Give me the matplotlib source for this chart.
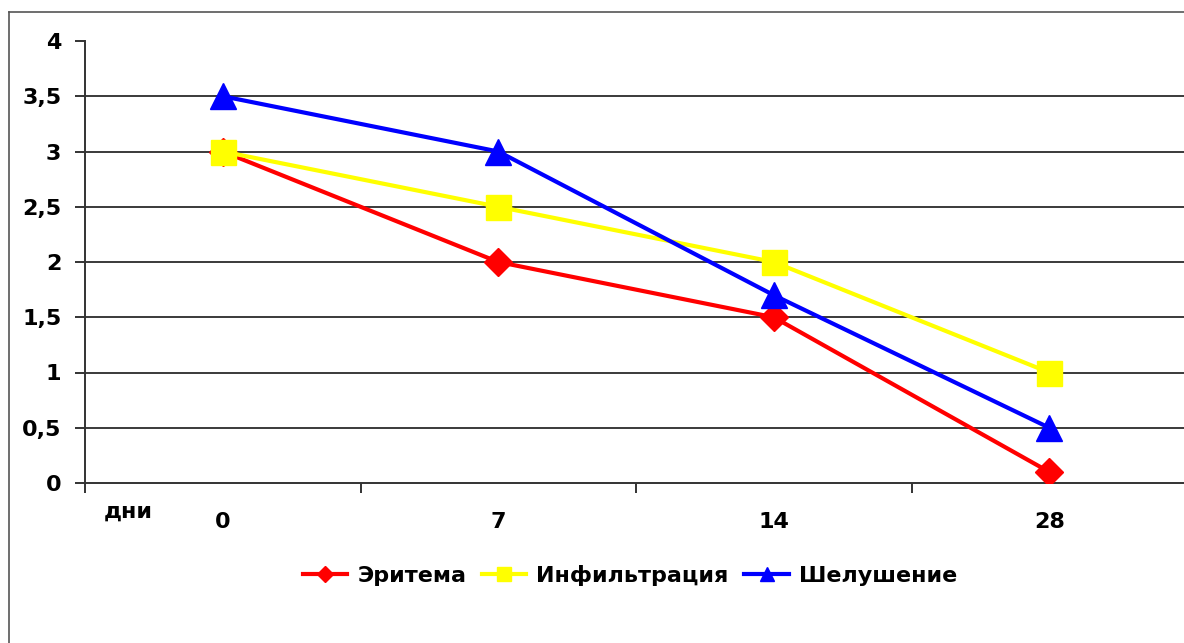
import matplotlib
matplotlib.use("Agg")
import matplotlib.pyplot as plt
from matplotlib.lines import Line2D

plt.rcParams['font.family'] = ['DejaVu Sans']
plt.rcParams['font.weight'] = 'bold'

days = ['0', '7', '14', '28']
erythema = [3, 2, 1.5, 0.1]
infiltration = [3, 2.5, 2, 1]
desquamation = [3.5, 3, 1.7, 0.5]
y_ticks = [0, 0.5, 1, 1.5, 2, 2.5, 3, 3.5, 4]
y_labels = ['0', '0,5', '1', '1,5', '2', '2,5', '3', '3,5', '4']

W, H = 1184, 643
FS = 16
fig = plt.figure(figsize=(W / 100, H / 100), dpi=100)
fig.patch.set_facecolor('white')

# figure frame (left and top edges)
fig.add_artist(Line2D([8.5 / W, 8.5 / W], [0, 1 - 12 / H], color='#555555', lw=1.2))
fig.add_artist(Line2D([8.5 / W, 1.0], [1 - 12 / H, 1 - 12 / H], color='#555555', lw=1.2))

left, right = 85 / W, 1187 / W
bottom, top = 1 - 483 / H, 1 - 41 / H
ax = fig.add_axes([left, bottom, right - left, top - bottom])

x = list(range(len(days)))
ax.plot(x, erythema, color='#FF0000', lw=3, marker='D', ms=14, zorder=3, label='Эритема')
ax.plot(x, infiltration, color='#FFFF00', lw=3, marker='s', ms=18, zorder=4, label='Инфильтрация')
ax.plot(x, desquamation, color='#0000FF', lw=3, marker='^', ms=19, zorder=5, label='Шелушение')

ax.set_xlim(-0.5, len(days) - 0.5)
ax.set_ylim(0, 4)

# horizontal grid lines (none at the top value)
for v in y_ticks[1:-1]:
    ax.axhline(v, color='#3a3a3a', lw=1.4, zorder=1)

for s in ['top', 'right']:
    ax.spines[s].set_visible(False)
for s in ['left', 'bottom']:
    ax.spines[s].set_color('#333333')
    ax.spines[s].set_linewidth(1.4)

ax.set_yticks(y_ticks)
ax.set_yticklabels(y_labels, fontsize=FS, fontweight='bold')
ax.tick_params(axis='y', length=7, width=1.4, color='#333333', pad=10)

# category boundary ticks, labels centered on categories
ax.set_xticks([i - 0.5 for i in range(len(days) + 1)])
ax.set_xticklabels([])
ax.set_xticks(x, minor=True)
ax.set_xticklabels(days, minor=True, fontsize=FS, fontweight='bold')
ax.tick_params(axis='x', which='major', length=7, width=1.4, color='#333333')
ax.tick_params(axis='x', which='minor', length=0, pad=21)

ax.text(-0.344, -0.317, 'дни', fontsize=FS, fontweight='bold', ha='center', va='baseline',
        clip_on=False)

leg = fig.legend(loc='center', bbox_to_anchor=(630 / W, 1 - 575 / H), ncol=3, frameon=False,
                 fontsize=FS, handlelength=2.0, handletextpad=0.45, columnspacing=0.7,
                 markerscale=0.55)
for t in leg.get_texts():
    t.set_fontweight('bold')

fig.savefig('out.png', dpi=100, facecolor='white')
